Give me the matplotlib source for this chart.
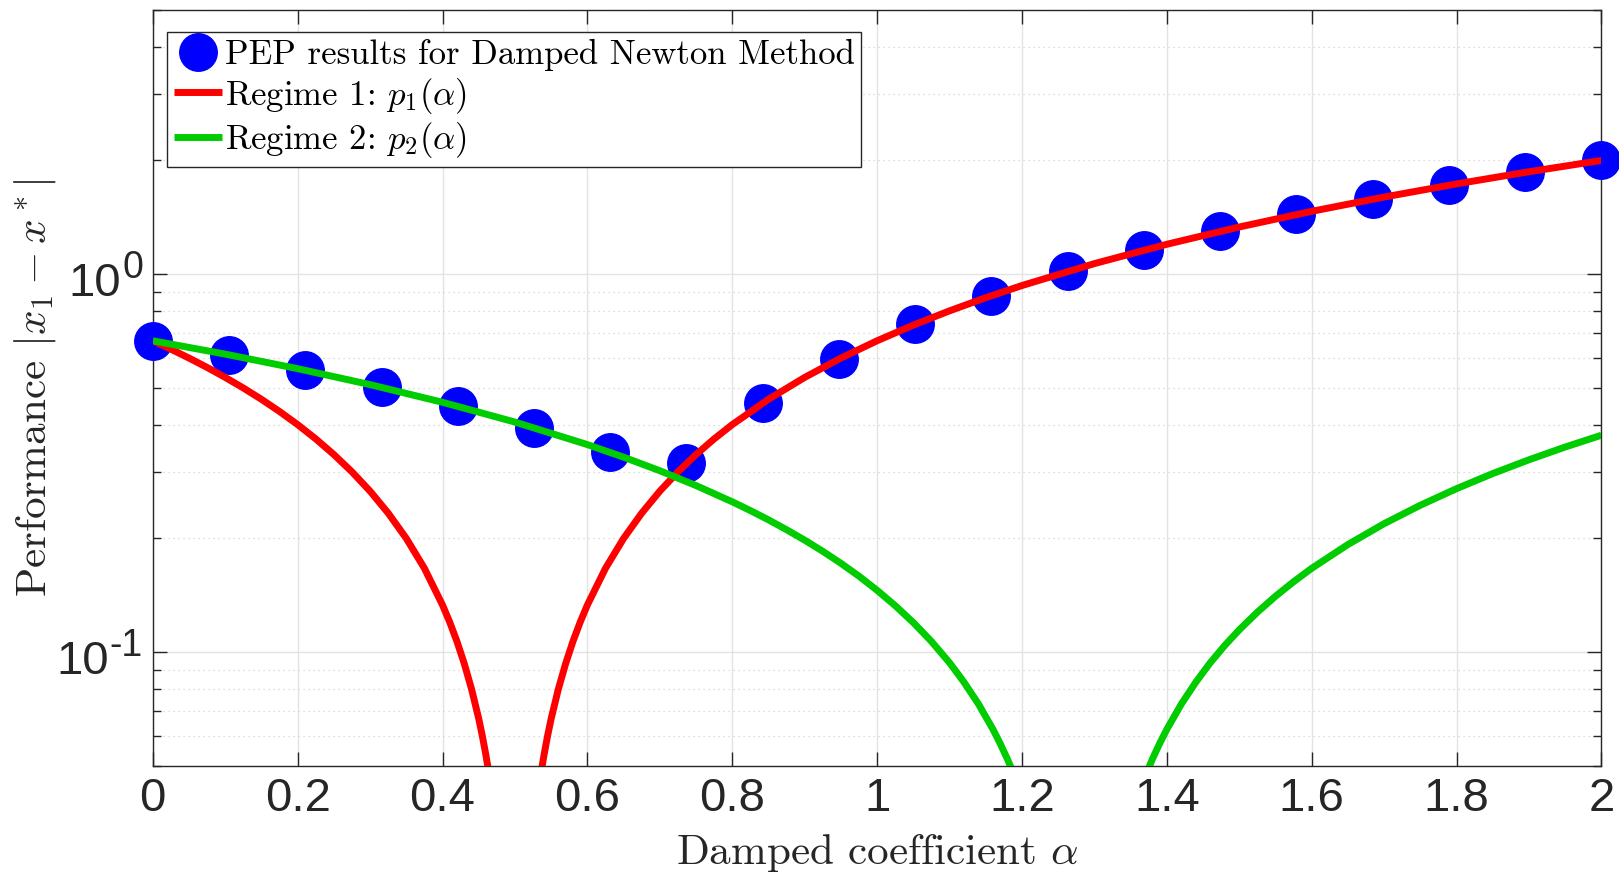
import numpy as np
import matplotlib
matplotlib.use("Agg")
import matplotlib.pyplot as plt
from matplotlib.ticker import FixedLocator, NullFormatter, LogLocator

plt.rcParams["mathtext.fontset"] = "cm"
plt.rcParams["axes.formatter.use_mathtext"] = True

# ---------------- data ----------------
alpha_pep = [0.0, 0.1053, 0.2105, 0.3158, 0.4211, 0.5263, 0.6316, 0.7368, 0.8421, 0.9474,
             1.0526, 1.1579, 1.2632, 1.3684, 1.4737, 1.5789, 1.6842, 1.7895, 1.8947, 2.0]
perf_pep = [0.667, 0.612, 0.557, 0.502, 0.447, 0.393, 0.338, 0.316, 0.456, 0.596,
            0.737, 0.877, 1.018, 1.158, 1.298, 1.439, 1.579, 1.719, 1.860, 2.0]

# Regime 1 curve p1(alpha) (NaN separates the two branches around the dip)
alpha_p1 = [0.0, 0.025, 0.05, 0.075, 0.1, 0.125, 0.15, 0.175, 0.2, 0.225, 0.25, 0.275, 0.3,
            0.325, 0.35, 0.375, 0.4, 0.41, 0.42, 0.43, 0.44, 0.45, 0.455, 0.46, 0.465, 0.47,
            np.nan,
            0.53, 0.535, 0.54, 0.545, 0.55, 0.56, 0.57, 0.58, 0.59, 0.6, 0.625, 0.65, 0.675,
            0.7, 0.725, 0.75, 0.775, 0.8, 0.85, 0.9, 0.95, 1.0, 1.05, 1.1, 1.15, 1.2, 1.3,
            1.4, 1.5, 1.6, 1.7, 1.8, 1.9, 2.0]
p1_vals = [0.6667, 0.6333, 0.6000, 0.5667, 0.5333, 0.5000, 0.4667, 0.4333, 0.4000, 0.3667,
           0.3333, 0.3000, 0.2667, 0.2333, 0.2000, 0.1667, 0.1333, 0.1200, 0.1067, 0.0933,
           0.0800, 0.0667, 0.0600, 0.0533, 0.0467, 0.0400,
           np.nan,
           0.0400, 0.0467, 0.0533, 0.0600, 0.0667, 0.0800, 0.0933, 0.1067, 0.1200, 0.1333,
           0.1667, 0.2000, 0.2333, 0.2667, 0.3000, 0.3333, 0.3667, 0.4000, 0.4667, 0.5333,
           0.6000, 0.6667, 0.7333, 0.8000, 0.8667, 0.9333, 1.0667, 1.2000, 1.3333, 1.4667,
           1.6000, 1.7333, 1.8667, 2.0000]

# Regime 2 curve p2(alpha)
alpha_p2 = [0.0, 0.1, 0.2, 0.3, 0.4, 0.5, 0.6, 0.65, 0.7, 0.75, 0.8, 0.825, 0.85, 0.875, 0.9,
            0.925, 0.95, 0.975, 1.0, 1.025, 1.05, 1.075, 1.1, 1.12, 1.14, 1.16, 1.17, 1.18,
            1.19,
            np.nan,
            1.37, 1.38, 1.39, 1.40, 1.42, 1.44, 1.46, 1.48, 1.5, 1.525, 1.55, 1.575, 1.6,
            1.65, 1.7, 1.75, 1.8, 1.85, 1.9, 1.95, 2.0]
p2_vals = [0.6667, 0.6146, 0.5625, 0.5104, 0.4583, 0.4063, 0.3542, 0.3281, 0.3021, 0.2760,
           0.2500, 0.2370, 0.2240, 0.2109, 0.1979, 0.1849, 0.1719, 0.1589, 0.1458, 0.1328,
           0.1198, 0.1068, 0.0938, 0.0833, 0.0729, 0.0625, 0.0573, 0.0521, 0.0469,
           np.nan,
           0.0469, 0.0521, 0.0573, 0.0625, 0.0729, 0.0833, 0.0938, 0.1042, 0.1146, 0.1276,
           0.1406, 0.1536, 0.1667, 0.1927, 0.2188, 0.2448, 0.2708, 0.2969, 0.3229, 0.3490,
           0.3750]

xtick_vals = [0.0, 0.2, 0.4, 0.6, 0.8, 1.0, 1.2, 1.4, 1.6, 1.8, 2.0]
xtick_labels = ["0", "0.2", "0.4", "0.6", "0.8", "1", "1.2", "1.4", "1.6", "1.8", "2"]
ytick_vals = [0.1, 1.0]
ytick_exps = ["-1", "0"]

legend_labels = ["PEP results for Damped Newton Method",
                 r"Regime 1: $p_1(\alpha)$",
                 r"Regime 2: $p_2(\alpha)$"]

# ---------------- figure ----------------
W, H = 1619, 872
fig = plt.figure(figsize=(W / 100, H / 100), dpi=100)
ax_l, ax_r, ax_t, ax_b = 152.8, 1601.4, 10, 766
ax = fig.add_axes([ax_l / W, 1 - ax_b / H, (ax_r - ax_l) / W, (ax_b - ax_t) / H])

ax_color = "#262626"
blue, red, green = "#0000ff", "#ff0000", "#00cc00"

h_pep, = ax.plot(alpha_pep, perf_pep, linestyle="none", marker="o", markersize=27,
                 markerfacecolor=blue, markeredgecolor=blue, clip_on=False, zorder=3)
h_p1, = ax.plot(alpha_p1, p1_vals, color=red, lw=5.0, zorder=4, solid_capstyle="butt",
                solid_joinstyle="round")
h_p2, = ax.plot(alpha_p2, p2_vals, color=green, lw=5.0, zorder=5, solid_capstyle="butt",
                solid_joinstyle="round")

ax.set_yscale("log")
ax.set_xlim(0, 2)
ax.set_ylim(0.05, 5)

ax.xaxis.set_major_locator(FixedLocator(xtick_vals))
ax.set_xticklabels(xtick_labels, family="Liberation Sans", fontsize=34, color=ax_color)
ax.yaxis.set_major_locator(FixedLocator(ytick_vals))
ax.yaxis.set_minor_locator(LogLocator(base=10, subs=np.arange(2, 10)))
ax.yaxis.set_major_formatter(NullFormatter())
ax.yaxis.set_minor_formatter(NullFormatter())

ax.tick_params(axis="both", which="both", direction="in", top=True, right=True, color=ax_color)
ax.tick_params(axis="both", which="major", length=10, width=1.0)
ax.tick_params(axis="y", which="minor", length=5.5, width=1.0)
ax.tick_params(axis="x", which="major", pad=8)

for s in ax.spines.values():
    s.set_color(ax_color)
    s.set_linewidth(1.0)

ax.grid(True, which="major", axis="both", color="#e3e3e3", lw=1.0, zorder=0)
ax.grid(True, which="minor", axis="y", color="#d2d2d2", lw=0.9, linestyle=(0, (1, 3)), zorder=0)
ax.set_axisbelow(True)

# y tick labels in MATLAB style: "10" followed by a raised exponent
fig.canvas.draw()
renderer = fig.canvas.get_renderer()
for val, ex in zip(ytick_vals, ytick_exps):
    sup = ax.annotate(ex, xy=(0, val), xycoords=("axes fraction", "data"),
                      xytext=(-7, -3), textcoords="offset points",
                      ha="right", va="baseline", fontsize=27,
                      family="Liberation Sans", color=ax_color, annotation_clip=False)
    bb = sup.get_window_extent(renderer)
    ax_x0 = ax.get_window_extent(renderer).x0
    dx_pt = (bb.x0 - ax_x0 - 1) * 72 / fig.dpi
    ax.annotate("10", xy=(0, val), xycoords=("axes fraction", "data"),
                xytext=(dx_pt, -16), textcoords="offset points",
                ha="right", va="baseline", fontsize=34,
                family="Liberation Sans", color=ax_color, annotation_clip=False)

ax.set_xlabel(r"Damped coefficient $\alpha$", family="cmr10", fontsize=31, color=ax_color)
ax.xaxis.set_label_coords(0.5, -(832 - ax_b) / (ax_b - ax_t))
ax.set_ylabel(r"Performance $|x_1-x^*|$", family="cmr10", fontsize=31, color=ax_color)
ax.yaxis.set_label_coords(-(152.8 - 58) / (ax_r - ax_l), 0.5)

leg = ax.legend([h_pep, h_p1, h_p2], legend_labels, loc="upper left",
                bbox_to_anchor=(14.2 / (ax_r - ax_l), 1 - 22 / (ax_b - ax_t)),
                borderaxespad=0, prop={"family": "cmr10", "size": 25},
                handlelength=1.4, handletextpad=0.08, borderpad=0.19,
                labelspacing=0.14, fancybox=False, framealpha=1, edgecolor=ax_color)
leg.get_frame().set_linewidth(1.0)
for t in leg.get_texts():
    t.set_color("black")

fig.savefig("out.png", dpi=100)
